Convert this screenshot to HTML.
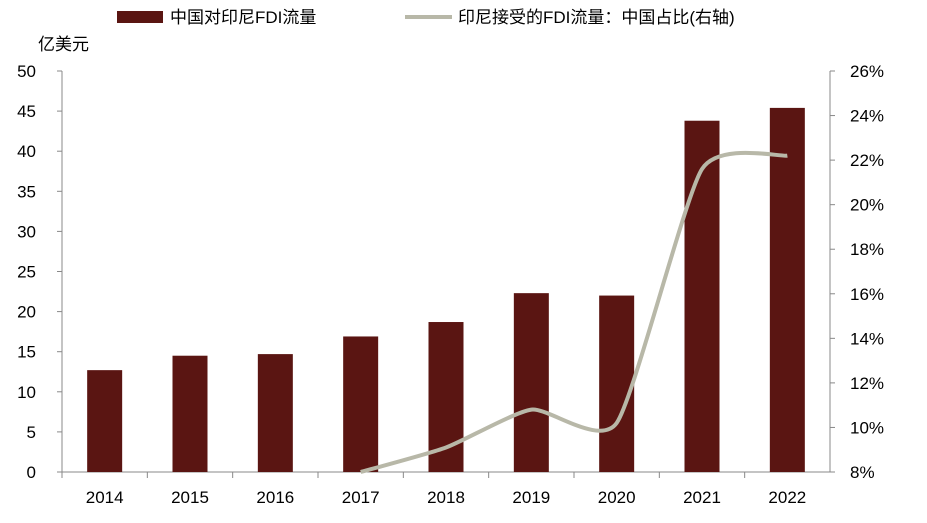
<!DOCTYPE html>
<html><head><meta charset="utf-8">
<style>
body{margin:0;background:#fff;}
svg{display:block;font-family:"Liberation Sans","Noto Sans CJK SC",sans-serif;}
</style></head>
<body>
<svg id="chart" width="927" height="523" viewBox="0 0 927 523">
  <g id="legend">
    <rect x="117" y="11" width="46" height="12" fill="#5a1512"/>
    <text x="170" y="23" font-size="17" fill="#000">中国对印尼FDI流量</text>
    <line x1="405" y1="17" x2="452" y2="17" stroke="#b8b8a8" stroke-width="4"/>
    <text x="458" y="23" font-size="17" fill="#000">印尼接受的FDI流量：中国占比(右轴)</text>
  </g>
  <text x="38" y="50" font-size="17" fill="#000">亿美元</text>
  <g id="axes"></g>
  <g id="bars"></g>
  <g id="line"></g>
</svg>
<script>
const categories = ["2014","2015","2016","2017","2018","2019","2020","2021","2022"];
const barValues = [12.7,14.5,14.7,16.9,18.7,22.3,22.0,43.8,45.4];
const shareCategories = ["2017","2018","2019","2020","2021","2022"];
const shareValues = [8.0,9.1,10.8,10.2,21.6,22.2];
const leftTicks = [0,5,10,15,20,25,30,35,40,45,50];
const rightTicks = [8,10,12,14,16,18,20,22,24,26];

const NS="http://www.w3.org/2000/svg";
const plotL=62, plotR=830, plotT=71, plotB=472;
const band=(plotR-plotL)/categories.length;
function xC(c){return plotL+band*(categories.indexOf(c)+0.5);}
function yL(v){return plotB-(v-0)/(50-0)*(plotB-plotT);}
function yR(v){return plotB-(v-8)/(26-8)*(plotB-plotT);}
function mk(tag,attrs,parent){const e=document.createElementNS(NS,tag);for(const k in attrs)e.setAttribute(k,attrs[k]);parent.appendChild(e);return e;}

const axes=document.getElementById("axes");
let a=mk("line",{x1:plotL,y1:plotT,x2:plotL,y2:plotB,stroke:"#888","stroke-width":1},axes);


a=mk("line",{x1:plotR,y1:plotT,x2:plotR,y2:plotB,stroke:"#888","stroke-width":1},axes);


a=mk("line",{x1:plotL,y1:plotB,x2:plotR,y2:plotB,stroke:"#888","stroke-width":1},axes);


leftTicks.forEach(v=>{
  const t=mk("text",{x:36,y:yL(v)+6,"font-size":17,"text-anchor":"end",fill:"#000"},axes);
  t.textContent=v;
  
  
  const tk=mk("line",{x1:plotL-5,y1:yL(v),x2:plotL,y2:yL(v),stroke:"#888"},axes);
  
  
});
rightTicks.forEach(v=>{
  const t=mk("text",{x:850,y:yR(v)+6,"font-size":17,fill:"#000"},axes);
  t.textContent=v+"%";
  
  
  const tk=mk("line",{x1:plotR,y1:yR(v),x2:plotR+5,y2:yR(v),stroke:"#888"},axes);
  
  
});
categories.forEach((c,i)=>{
  const t=mk("text",{x:xC(c),y:503,"font-size":17,"text-anchor":"middle",fill:"#000"},axes);
  t.textContent=c;
  
  
  const tk=mk("line",{x1:plotL+band*i,y1:plotB,x2:plotL+band*i,y2:plotB+6,stroke:"#888"},axes);
  
  
});
const bars=document.getElementById("bars");
const bw=35;
categories.forEach((c,i)=>{
  const v=barValues[i];
  const r=mk("rect",{x:xC(c)-bw/2,y:yL(v),width:bw,height:plotB-yL(v),fill:"#5a1512"},bars);
  
  
});
const pts=shareCategories.map((c,i)=>[xC(c),yR(shareValues[i])]);
let d="M"+pts[0][0]+","+pts[0][1];
const k=0.1;
for(let i=0;i<pts.length-1;i++){
  const p0=pts[Math.max(0,i-1)],p1=pts[i],p2=pts[i+1],p3=pts[Math.min(pts.length-1,i+2)];
  const c1=[p1[0]+(p2[0]-p0[0])*k,p1[1]+(p2[1]-p0[1])*k];
  const c2=[p2[0]-(p3[0]-p1[0])*k,p2[1]-(p3[1]-p1[1])*k];
  d+=" C"+c1[0]+","+c1[1]+" "+c2[0]+","+c2[1]+" "+p2[0]+","+p2[1];
}
const ln=mk("path",{d:d,fill:"none",stroke:"#b8b8a8","stroke-width":4},document.getElementById("line"));


</script>
</body></html>
